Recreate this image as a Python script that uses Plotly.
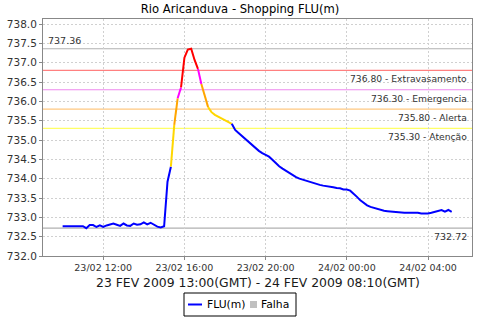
import plotly.graph_objects as go
import pandas as pd

# ---- data (10-minute readings, local time) ----
start_time = "2009-02-23 10:00"
levels = [
    732.77, 732.77, 732.77, 732.77, 732.77, 732.77,  # 10:00-10:50
    732.77, 732.72, 732.80, 732.80, 732.75, 732.79,  # 11:00-11:50
    732.75, 732.79, 732.82, 732.84, 732.81, 732.78,  # 12:00-12:50
    732.84, 732.79, 732.78, 732.84, 732.81, 732.82,  # 13:00-13:50
    732.87, 732.82, 732.86, 732.80, 732.76, 732.74,  # 14:00-14:50
    732.77, 733.92, 734.31, 735.39, 736.08, 736.36,  # 15:00-15:50
    737.13, 737.34, 737.36, 737.07, 736.84, 736.45,  # 16:00-16:50
    736.12, 735.85, 735.72, 735.65, 735.60, 735.55,  # 17:00-17:50
    735.51, 735.47, 735.42, 735.26, 735.18, 735.10,  # 18:00-18:50
    735.03, 734.96, 734.88, 734.79, 734.72, 734.66,  # 19:00-19:50
    734.61, 734.57, 734.49, 734.40, 734.32, 734.26,  # 20:00-20:50
    734.20, 734.14, 734.09, 734.04, 734.00, 733.97,  # 21:00-21:50
    733.94, 733.92, 733.89, 733.87, 733.84, 733.82,  # 22:00-22:50
    733.81, 733.80, 733.78, 733.76, 733.75, 733.72,  # 23:00-23:50
    733.72, 733.69, 733.62, 733.53, 733.44, 733.37,  # 00:00-00:50
    733.31, 733.27, 733.24, 733.21, 733.19, 733.17,  # 01:00-01:50
    733.16, 733.15, 733.14, 733.13, 733.13, 733.12,  # 02:00-02:50
    733.12, 733.12, 733.12, 733.12, 733.10, 733.10,  # 03:00-03:50
    733.10, 733.12, 733.14, 733.17, 733.19, 733.15,  # 04:00-04:50
    733.19, 733.14,                                  # 05:00-05:10
]
times = pd.date_range(start_time, periods=len(levels), freq="10min")

threshold_values = [736.80, 736.30, 735.80, 735.30]
threshold_names = ["Extravasamento", "Emergencia", "Alerta", "Atenção"]
threshold_line_colors = ["#FF8080", "#EE88EE", "#FFC880", "#FFFF66"]
segment_colors = ["#FF0000", "#FF00FF", "#FFA500", "#FFD700"]
normal_color = "#0000FF"
fault_color = "#C0C0C0"
max_level = 737.36
base_level = 732.72

y_ticks = [732.0, 732.5, 733.0, 733.5, 734.0, 734.5, 735.0, 735.5,
           736.0, 736.5, 737.0, 737.5, 738.0]
x_ticks = ["2009-02-23 12:00", "2009-02-23 16:00", "2009-02-23 20:00",
           "2009-02-24 00:00", "2009-02-24 04:00"]
x_tick_labels = ["23/02 12:00", "23/02 16:00", "23/02 20:00",
                 "24/02 00:00", "24/02 04:00"]

title = "Rio Aricanduva - Shopping FLU(m)"
subtitle = "23 FEV 2009 13:00(GMT) - 24 FEV 2009 08:10(GMT)"
legend_names = ["FLU(m)", "Falha"]


def color_for(v):
    for t, c in zip(threshold_values, segment_colors):
        if v >= t:
            return c
    return normal_color


FONT = "DejaVu Sans"
W, H = 480, 320
ML, MR, MT, MB = 43, 8, 19, 64
PW, PH = W - ML - MR, H - MT - MB


def px(x):
    return (x - ML) / PW


def py(y):
    return (H - MB - y) / PH


fig = go.Figure()

# group consecutive segments by colour (colour from segment end value)
runs = []
for i in range(1, len(levels)):
    c = color_for(levels[i])
    if runs and runs[-1][0] == c:
        runs[-1][1].append(i)
    else:
        runs.append([c, [i - 1, i]])

for c, idx in runs:
    fig.add_trace(go.Scatter(
        x=[times[k] for k in idx], y=[levels[k] for k in idx],
        mode="lines", line=dict(color=c, width=2),
        name=legend_names[0], showlegend=False, hoverinfo="skip"))

shapes = []
annotations = []
for v, name, lc in zip(threshold_values, threshold_names, threshold_line_colors):
    shapes.append(dict(type="line", xref="paper", x0=0, x1=1, yref="y",
                       y0=v, y1=v, line=dict(color=lc, width=1.2), layer="below"))
    annotations.append(dict(xref="paper", x=px(469), yref="y", y=v, yshift=-8.5,
                            text=f"{v:.2f} - {name}", showarrow=False,
                            xanchor="right", yanchor="middle",
                            font=dict(family=FONT, size=9.2, color="#333333")))
for v, xa, xpos, ys in [(max_level, "left", px(46), 8), (base_level, "right", px(469), -8)]:
    shapes.append(dict(type="line", xref="paper", x0=0, x1=1, yref="y",
                       y0=v, y1=v, line=dict(color="#B0B0B0", width=1.2), layer="below"))
    annotations.append(dict(xref="paper", x=xpos, yref="y", y=v, yshift=ys,
                            text=f"{v:.2f}", showarrow=False,
                            xanchor=xa, yanchor="middle",
                            font=dict(family=FONT, size=9.5, color="#333333")))

annotations.append(dict(xref="paper", yref="paper", x=0.5, y=py(282),
                        text=subtitle, showarrow=False, xanchor="center",
                        yanchor="middle",
                        font=dict(family=FONT, size=12.4, color="#1a1a1a")))

# legend drawn by hand
shapes.append(dict(type="rect", xref="paper", yref="paper",
                   x0=px(184), x1=px(296), y0=py(316), y1=py(293),
                   line=dict(color="#000000", width=1), fillcolor="white"))
shapes.append(dict(type="line", xref="paper", yref="paper",
                   x0=px(188), x1=px(202), y0=py(304.5), y1=py(304.5),
                   line=dict(color=normal_color, width=2)))
shapes.append(dict(type="rect", xref="paper", yref="paper",
                   x0=px(250), x1=px(257), y0=py(308), y1=py(301),
                   line=dict(width=0), fillcolor=fault_color))
annotations.append(dict(xref="paper", yref="paper", x=px(205), y=py(304.5),
                        text=legend_names[0], showarrow=False, xanchor="left",
                        yanchor="middle",
                        font=dict(family=FONT, size=10.8, color="#000000")))
annotations.append(dict(xref="paper", yref="paper", x=px(259), y=py(304.5),
                        text=legend_names[1], showarrow=False, xanchor="left",
                        yanchor="middle",
                        font=dict(family=FONT, size=10.8, color="#000000")))

fig.update_layout(
    width=W, height=H,
    margin=dict(l=ML, r=MR, t=MT, b=MB),
    paper_bgcolor="white", plot_bgcolor="white",
    title=dict(text=title, x=0.5, xanchor="center", y=1 - 9 / H,
               yanchor="middle", yref="container",
               font=dict(family=FONT, size=11.6, color="#000000")),
    shapes=shapes, annotations=annotations,
    showlegend=False,
    font=dict(family=FONT),
)
fig.update_xaxes(
    range=["2009-02-23 09:02", "2009-02-24 06:10"],
    tickvals=x_ticks, ticktext=x_tick_labels,
    tickfont=dict(family=FONT, size=9.5, color="#333333"),
    showgrid=True, gridcolor="#D0D0D0", griddash="2px,2px", gridwidth=1,
    showline=True, linecolor="#888888", mirror=True, automargin=False,
    ticks="outside", ticklen=3, tickcolor="#888888", zeroline=False,
)
fig.update_yaxes(
    range=[732.0, 738.13],
    tickvals=y_ticks, ticktext=[f"{v:.1f}" for v in y_ticks],
    tickfont=dict(family=FONT, size=10.5, color="#333333"),
    showgrid=True, gridcolor="#D0D0D0", griddash="2px,2px", gridwidth=1,
    showline=True, linecolor="#888888", mirror=True, automargin=False,
    ticks="outside", ticklen=3, tickcolor="#888888", zeroline=False,
)

fig.write_html("out.html")
